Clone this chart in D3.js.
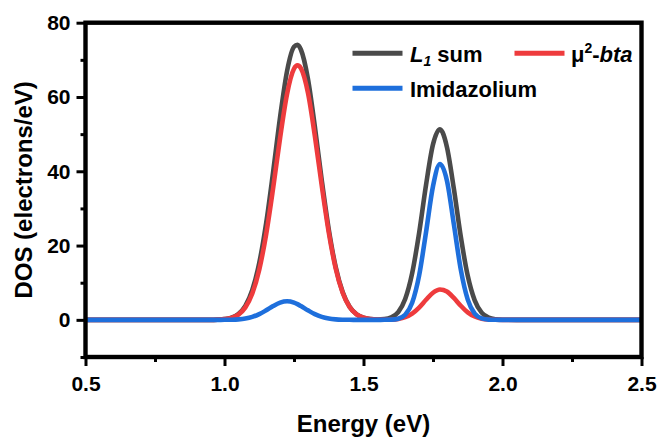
<!DOCTYPE html>
<html>
<head>
<meta charset="utf-8">
<script src="https://cdn.jsdelivr.net/npm/d3@7/dist/d3.min.js"></script>
<style>
	body { margin: 0; background: #fff; }
	svg text { font-family: Arial, "Liberation Sans", Helvetica, sans-serif; font-weight: bold; fill: #000; }
</style>
</head>
<body>
<svg width="660" height="438"></svg>
<script>
// DOS vs energy, sampled along the energy axis
var energy = [0.5, 0.9, 0.95, 0.975, 1.0, 1.025, 1.05, 1.075, 1.1, 1.125, 1.15, 1.175, 1.2, 1.225, 1.25, 1.2625, 1.275,
	1.3, 1.325, 1.35, 1.375, 1.4, 1.425, 1.45, 1.475, 1.5, 1.525, 1.55, 1.575, 1.6, 1.625, 1.65, 1.675, 1.7,
	1.725, 1.75, 1.775, 1.8, 1.825, 1.85, 1.875, 1.9, 1.925, 1.95, 1.975, 2.0, 2.05, 2.5];

var l1Sum = [0, 0, 0, 0.06, 0.2, 0.59, 1.59, 3.77, 8.04, 15.31, 26.12, 39.89, 54.58, 66.97, 73.52, 74.03, 72.71,
	64.93, 52.01, 37.51, 24.36, 14.23, 7.49, 3.55, 1.51, 0.58, 0.2, 0.1, 0.19, 0.66, 2.11, 5.63, 12.55, 23.36,
	36.34, 47.23, 51.3, 46.56, 35.31, 22.38, 11.85, 5.25, 1.94, 0.6, 0.15, 0.03, 0, 0];

var bta = [0, 0, 0, 0.06, 0.19, 0.54, 1.43, 3.36, 7.11, 13.52, 23.11, 35.5, 49.01, 60.81, 67.6, 68.5, 67.7,
	61.2, 49.54, 36.04, 23.56, 13.84, 7.31, 3.47, 1.48, 0.57, 0.2, 0.06, 0.02, 0.07, 0.25, 0.72, 1.69, 3.32,
	5.4, 7.3, 8.19, 7.63, 5.9, 3.8, 2.03, 0.9, 0.33, 0.1, 0.03, 0, 0, 0];

var imidazolium = [0, 0, 0, 0, 0.01, 0.04, 0.13, 0.35, 0.79, 1.53, 2.57, 3.72, 4.64, 5.0, 4.64, 4.23, 3.72,
	2.57, 1.53, 0.79, 0.35, 0.13, 0.04, 0.01, 0, 0, 0, 0, 0.01, 0.05, 0.31, 1.36, 4.6, 11.91,
	23.64, 35.97, 41.96, 37.53, 25.74, 13.53, 5.46, 1.69, 0.4, 0.07, 0.01, 0, 0, 0];

var xTicks = [0.5, 1.0, 1.5, 2.0, 2.5],
	xMinor = [0.75, 1.25, 1.75, 2.25],
	yTicks = [0, 20, 40, 60, 80],
	yMinor = [-10, 10, 30, 50, 70];

var svg = d3.select("svg"),
	plotLeft = 85.5,
	plotRight = 641.5,
	plotTop = 22.7,
	plotBottom = 357;

var x = d3.scaleLinear().domain([0.5, 2.5]).range([plotLeft, plotRight]);
var y = d3.scaleLinear().domain([-10, 80]).range([plotBottom, plotTop]);

var series = [
	{name: "sum", values: l1Sum, color: "#4a4a4a"},
	{name: "bta", values: bta, color: "#ee3b3d"},
	{name: "imid", values: imidazolium, color: "#1e6fdc"}
];

var line = d3.line()
	.x(function (d, i) { return x(energy[i]); })
	.y(function (d) { return y(d); })
	.curve(d3.curveMonotoneX);

svg.append("g")
	.selectAll("path")
	.data(series)
	.enter().append("path")
	.attr("d", function (d) { return line(d.values); })
	.attr("fill", "none")
	.attr("stroke", function (d) { return d.color; })
	.attr("stroke-width", 4.6)
	.attr("stroke-linejoin", "round");

// axes: major + minor ticks, frame drawn separately
function styleAxis(g) {
	g.select(".domain").remove();
	g.selectAll(".tick line").attr("stroke", "#000").attr("stroke-width", 3);
	g.selectAll(".tick text").style("font-size", "21px");
}

svg.append("g")
	.attr("transform", "translate(0," + plotBottom + ")")
	.call(d3.axisBottom(x).tickValues(xTicks).tickSize(9).tickPadding(10).tickFormat(d3.format(".1f")))
	.call(styleAxis);
svg.append("g")
	.attr("transform", "translate(0," + plotBottom + ")")
	.call(d3.axisBottom(x).tickValues(xMinor).tickSize(5).tickFormat(""))
	.call(styleAxis);

svg.append("g")
	.attr("transform", "translate(" + plotLeft + ",0)")
	.call(d3.axisLeft(y).tickValues(yTicks).tickSize(9).tickPadding(6))
	.call(styleAxis);
svg.append("g")
	.attr("transform", "translate(" + plotLeft + ",0)")
	.call(d3.axisLeft(y).tickValues(yMinor).tickSize(5).tickFormat(""))
	.call(styleAxis);

svg.append("rect")
	.attr("x", plotLeft)
	.attr("y", plotTop)
	.attr("width", plotRight - plotLeft)
	.attr("height", plotBottom - plotTop)
	.attr("fill", "none")
	.attr("stroke", "#000")
	.attr("stroke-width", 4.4);

// axis titles
svg.append("text")
	.attr("x", (plotLeft + plotRight) / 2)
	.attr("y", 432)
	.attr("text-anchor", "middle")
	.style("font-size", "24px")
	.text("Energy (eV)");

svg.append("text")
	.attr("transform", "translate(32," + ((plotTop + plotBottom) / 2) + ") rotate(-90)")
	.attr("text-anchor", "middle")
	.style("font-size", "24px")
	.text("DOS (electrons/eV)");

// legend
var legend = svg.append("g").style("font-size", "22px");

function legendLine(x0, y0, color) {
	legend.append("line")
		.attr("x1", x0).attr("x2", x0 + 50)
		.attr("y1", y0).attr("y2", y0)
		.attr("stroke", color)
		.attr("stroke-width", 5);
}

legendLine(352.5, 53.3, series[0].color);
legendLine(514.5, 53.3, series[1].color);
legendLine(352.5, 88.3, series[2].color);

var t1 = legend.append("text").attr("x", 410).attr("y", 61.5);
t1.append("tspan").style("font-style", "italic").text("L");
t1.append("tspan").style("font-style", "italic").style("font-size", "14px").attr("dy", 4).text("1");
t1.append("tspan").attr("dy", -4).text(" sum");

var t2 = legend.append("text").attr("x", 571).attr("y", 61.5);
t2.append("tspan").text("\u03bc");
t2.append("tspan").style("font-size", "14px").attr("dy", -9).text("2");
t2.append("tspan").attr("dy", 9).text("-");
t2.append("tspan").style("font-style", "italic").text("bta");

legend.append("text").attr("x", 410).attr("y", 96.5).text("Imidazolium");
</script>
</body>
</html>
